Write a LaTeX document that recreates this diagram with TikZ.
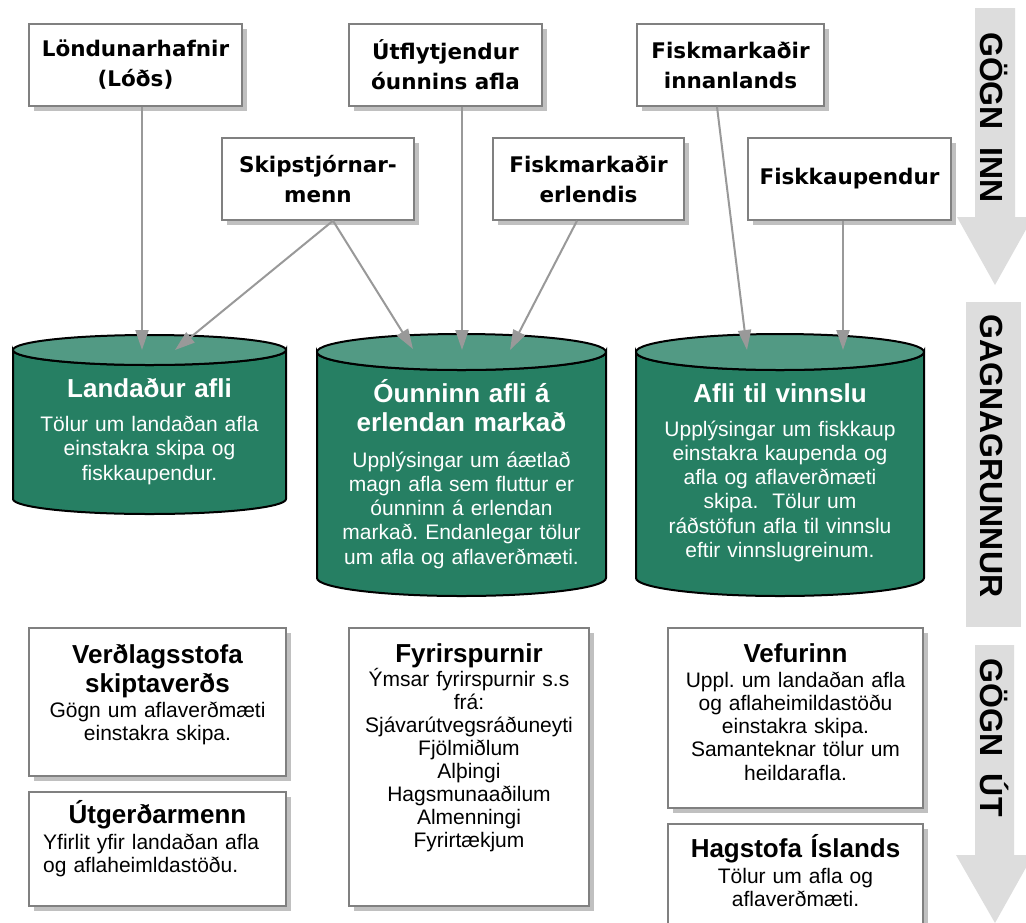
\documentclass[tikz,border=0pt]{standalone}
\usepackage{fontspec}
\setmainfont{Liberation Sans}
\newfontfamily\topfont{DejaVu Sans}
\usetikzlibrary{arrows.meta,shadows}
\definecolor{cylbody}{HTML}{267F63}
\definecolor{cyltop}{HTML}{529A84}
\definecolor{connc}{HTML}{999999}
\definecolor{bandc}{HTML}{DDDDDD}
\definecolor{boxline}{HTML}{808080}
\definecolor{shadowc}{HTML}{C0C0C0}
\frenchspacing
\begin{document}
\begin{tikzpicture}[x=1pt,y=-1pt,
  boxbase/.style={draw=boxline, line width=1.5pt, fill=white,
    drop shadow={shadow xshift=5pt,shadow yshift=-5pt,fill=shadowc,opacity=1}},
  srcbox/.style={boxbase, inner sep=0pt, align=center,
    font=\topfont\bfseries\fontsize{21.5}{30}\selectfont},
  outbox/.style={boxbase, inner sep=0pt},
  conn/.style={draw=connc, line width=2pt, -{Triangle[length=20pt,width=13pt]}},
  cylttl/.style={text=white, font=\bfseries\fontsize{26}{29}\selectfont,
    text width=280pt, align=center, anchor=base, inner sep=0pt},
  cyltxt/.style={text=white, font=\fontsize{21}{24.3}\selectfont,
    text width=280pt, align=center, anchor=base, inner sep=0pt},
  outttl/.style={font=\bfseries\fontsize{26}{29}\selectfont,
    text width=250pt, align=center, anchor=base, inner sep=0pt},
  outtxt/.style={font=\fontsize{21}{23.2}\selectfont,
    text width=250pt, align=center, anchor=base, inner sep=0pt},
  bandtxt/.style={rotate=-90, anchor=base, inner sep=0pt,
    font=\bfseries\fontsize{32}{32}\selectfont},
  band/.style={fill=bandc, draw=none}
]
\useasboundingbox (0,0) rectangle (1026,922);
\fill[white] (0,0) rectangle (1026,922);

% ---------- right-hand bands ----------
\path[band] (975,8) -- (1015,8) -- (1015,217) -- (1033,217) -- (995,285)
  -- (957,217) -- (975,217) -- cycle;
\path[band] (966,302) rectangle (1021,627);
\path[band] (975,645) -- (1014,645) -- (1014,855) -- (1033,855) -- (995,923)
  -- (956,855) -- (975,855) -- cycle;
\node[bandtxt] (bandin) at (980,117.5) {GÖGN\ \ INN};
\node[bandtxt] (banddb) at (980,456) {GAGNAGRUNNUR};
\node[bandtxt] (bandout) at (980,737.5) {GÖGN\ \ ÚT};

% ---------- cylinders ----------
% Landaður afli
\path[fill=cylbody, draw=black, line width=2pt]
  (13,350) -- (13,499) arc[start angle=180,end angle=0,x radius=136.5,y radius=15]
  -- (286,350) arc[start angle=0,end angle=180,x radius=136.5,y radius=15] -- cycle;
\path[fill=cyltop, draw=black, line width=2pt] (149.5,350) ellipse[x radius=136.5,y radius=15];
% Óunninn afli
\path[fill=cylbody, draw=black, line width=2pt]
  (317,352) -- (317,578) arc[start angle=180,end angle=0,x radius=144.5,y radius=18]
  -- (606,352) arc[start angle=0,end angle=180,x radius=144.5,y radius=18] -- cycle;
\path[fill=cyltop, draw=black, line width=2pt] (461.5,352) ellipse[x radius=144.5,y radius=18];
% Afli til vinnslu
\path[fill=cylbody, draw=black, line width=2pt]
  (636,352) -- (636,578) arc[start angle=180,end angle=0,x radius=144,y radius=18]
  -- (924,352) arc[start angle=0,end angle=180,x radius=144,y radius=18] -- cycle;
\path[fill=cyltop, draw=black, line width=2pt] (780,352) ellipse[x radius=144,y radius=18];

\node[cylttl] (landT) at (149.5,397) {Landaður afli};
\node[cyltxt, font=\fontsize{21}{24.5}\selectfont] (landB) at (149.5,431)
  {Tölur um landaðan afla\\einstakra skipa og\\fiskkaupendur.};
\node[cylttl] (ounT) at (461.5,402) {Óunninn afli á\\erlendan markað};
\node[cyltxt] (ounB) at (461.5,467)
  {Upplýsingar um áætlað\\magn afla sem fluttur er\\óunninn á erlendan\\markað. Endanlegar tölur\\um afla og aflaverðmæti.};
\node[cylttl] (vinT) at (780,402) {Afli til vinnslu};
\node[cyltxt] (vinB) at (780,436)
  {Upplýsingar um fiskkaup\\einstakra kaupenda og\\afla og aflaverðmæti\\skipa.~ Tölur um\\ráðstöfun afla til vinnslu\\eftir vinnslugreinum.};

% arrow targets on the cylinder tops
\coordinate (L1) at (142,350);
\coordinate (L2) at (175,350);
\coordinate (M1) at (413,349);
\coordinate (M2) at (462,350);
\coordinate (M3) at (510,350);
\coordinate (R1) at (747,350);
\coordinate (R2) at (843,350);

% ---------- source boxes ----------
\node[srcbox, minimum width=213pt, minimum height=82pt] (lond) at (135.5,65) {Löndunarhafnir\\(Lóðs)};
\node[srcbox, minimum width=193pt, minimum height=82pt] (utfl) at (445.5,65) {Útflytjendur\\óunnins afla};
\node[srcbox, minimum width=187pt, minimum height=82pt] (fmi) at (730.5,65) {Fiskmarkaðir\\innanlands};
\node[srcbox, minimum width=192pt, minimum height=82pt] (skip) at (318,179) {Skipstjórnar-\\menn};
\node[srcbox, minimum width=191pt, minimum height=82pt] (fme) at (588.5,179) {Fiskmarkaðir\\erlendis};
\node[srcbox, minimum width=203pt, minimum height=82pt] (fk) at (849.5,179) {Fiskkaupendur};

% ---------- connectors ----------
\draw[conn] (lond.south -| L1) -- (L1);
\draw[conn] ([xshift=15pt]skip.south) -- (L2);
\draw[conn] ([xshift=15pt]skip.south) -- (M1);
\draw[conn] (utfl.south -| M2) -- (M2);
\draw[conn] ([xshift=-11.5pt]fme.south) -- (M3);
\draw[conn] ([xshift=-13.5pt]fmi.south) -- (R1);
\draw[conn] (fk.south -| R2) -- (R2);

% ---------- output boxes ----------
\node[outbox, minimum width=257pt, minimum height=148pt] (verd) at (157.5,702) {};
\node[outbox, minimum width=257pt, minimum height=114pt] (utg) at (157.5,849) {};
\node[outbox, minimum width=240pt, minimum height=278pt] (fyr) at (469,767) {};
\node[outbox, minimum width=255pt, minimum height=180pt] (vef) at (795.5,718) {};
\node[outbox, minimum width=255pt, minimum height=106pt] (hag) at (795.5,877) {};

\node[outttl] (verdT) at (157.5,663) {Verðlagsstofa\\skiptaverðs};
\node[outtxt, font=\fontsize{21}{23}\selectfont] (verdB) at (157.5,717) {Gögn um aflaverðmæti\\einstakra skipa.};
\node[outttl] (utgT) at (157.5,823) {Útgerðarmenn};
\node[outtxt, align=left, anchor=base west, text width=240pt] (utgB) at (43,849) {Yfirlit yfir landaðan afla\\og aflaheimldastöðu.};
\node[outttl] (fyrT) at (469,662) {Fyrirspurnir};
\node[outtxt, font=\fontsize{21}{23.1}\selectfont] (fyrB) at (469,686)
  {Ýmsar fyrirspurnir s.s\\frá:\\Sjávarútvegsráðuneyti\\Fjölmiðlum\\Alþingi\\Hagsmunaaðilum\\Almenningi\\Fyrirtækjum};
\node[outttl] (vefT) at (795.5,662) {Vefurinn};
\node[outtxt, font=\fontsize{21}{23.3}\selectfont] (vefB) at (795.5,687)
  {Uppl. um landaðan afla\\og aflaheimildastöðu\\einstakra skipa.\\Samanteknar tölur um\\heildarafla.};
\node[outttl] (hagT) at (795.5,857) {Hagstofa Íslands};
\node[outtxt, font=\fontsize{21}{23}\selectfont] (hagB) at (795.5,883) {Tölur um afla og\\aflaverðmæti.};
\end{tikzpicture}
\end{document}
